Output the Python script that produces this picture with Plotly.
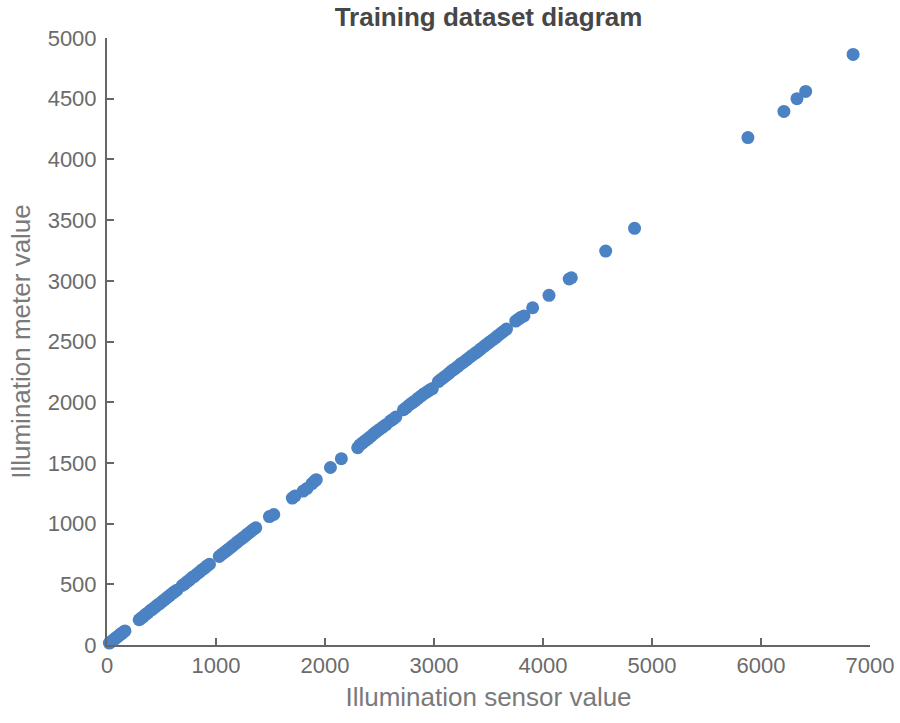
import plotly.graph_objects as go

# Training samples: illumination sensor reading vs. reference meter reading
sensor_values = [
    22, 34, 45, 58, 68, 80, 92, 104, 116, 128, 140, 152, 165,
    295, 312, 330, 352, 375, 398, 415, 438, 460, 482, 505, 528, 550, 572, 595, 615, 640,
    690, 712, 735, 758, 780, 800, 825, 848, 870, 895, 915, 940,
    1030, 1055, 1080, 1100, 1125, 1150, 1172, 1195, 1220, 1245, 1268, 1290, 1315, 1340, 1365,
    1490, 1530,
    1700, 1725, 1800, 1835, 1880, 1905, 1920,
    2050, 2150,
    2300, 2320, 2345, 2370, 2395, 2420, 2445, 2470, 2500, 2530, 2560, 2600, 2625, 2650,
    2720, 2745, 2770, 2800, 2825, 2850, 2880, 2905, 2935, 2960, 2985,
    3040, 3065, 3090, 3115, 3140, 3165, 3190, 3220, 3245, 3270, 3300, 3325, 3350, 3380,
    3405, 3430, 3460, 3485, 3510, 3540, 3565, 3590, 3615, 3640, 3665,
    3750, 3775, 3800, 3825,
    3905, 4055, 4240, 4260, 4575, 4840, 5880, 6210, 6330, 6410, 6845,
]
meter_values = [
    16, 25, 31, 42, 47, 58, 64, 74, 81, 92, 98, 108, 116,
    208, 220, 232, 250, 265, 284, 294, 310, 327, 340, 358, 373, 390, 405, 422, 436, 452,
    490, 503, 522, 536, 555, 566, 585, 600, 618, 633, 650, 665,
    730, 748, 765, 780, 796, 815, 830, 848, 865, 882, 898, 915, 932, 950, 966,
    1058, 1075,
    1210, 1228, 1268, 1290, 1330, 1350, 1362,
    1462, 1535,
    1625, 1648, 1665, 1683, 1700, 1718, 1738, 1756, 1776, 1795, 1815, 1845, 1860, 1878,
    1938, 1955, 1975, 1995, 2010, 2030, 2050, 2068, 2085, 2100, 2112,
    2170, 2188, 2205, 2222, 2240, 2260, 2275, 2295, 2315, 2330, 2350, 2368, 2385, 2405,
    2420, 2440, 2460, 2478, 2495, 2515, 2532, 2550, 2568, 2585, 2602,
    2668, 2685, 2700, 2710,
    2778, 2880, 3015, 3025, 3245, 3432, 4180, 4395, 4500, 4560, 4865,
]

x_ticks = [0, 1000, 2000, 3000, 4000, 5000, 6000, 7000]
y_ticks = [0, 500, 1000, 1500, 2000, 2500, 3000, 3500, 4000, 4500, 5000]

FONT = "Liberation Sans, Arial, sans-serif"
AXIS_GREY = "#666666"
DOT_BLUE = "#4b82c3"

fig = go.Figure(
    go.Scatter(
        x=sensor_values,
        y=meter_values,
        mode="markers",
        marker=dict(size=13, color=DOT_BLUE, line=dict(width=0)),
        cliponaxis=False,
        hoverinfo="x+y",
    )
)

axis_common = dict(
    showgrid=False,
    zeroline=False,
    showline=True,
    linecolor=AXIS_GREY,
    linewidth=2,
    ticks="inside",
    ticklen=7,
    tickwidth=1.5,
    tickcolor=AXIS_GREY,
    tickfont=dict(family=FONT, size=22, color="#6b6b6b"),
    automargin=False,
)

fig.update_layout(
    width=900,
    height=723,
    margin=dict(l=107, r=30, t=38, b=78),
    paper_bgcolor="white",
    plot_bgcolor="white",
    showlegend=False,
    font=dict(family=FONT),
    title=dict(
        text="<b>Training dataset diagram</b>",
        font=dict(family=FONT, size=26, color="#474747"),
        x=0.5,
        xanchor="center",
        y=1 - 17 / 723,
        yanchor="middle",
        xref="paper",
        yref="container",
    ),
    xaxis=dict(
        axis_common,
        range=[0, 7000],
        tickvals=x_ticks,
        ticktext=[str(v) for v in x_ticks],
        title=dict(
            text="Illumination sensor value",
            font=dict(family=FONT, size=26, color="#7a7a7a"),
            standoff=10,
        ),
    ),
    yaxis=dict(
        axis_common,
        range=[0, 5000],
        tickvals=y_ticks,
        ticktext=[str(v) for v in y_ticks],
        ticklabelstandoff=4,
        title=dict(
            text="Illumination meter value",
            font=dict(family=FONT, size=26, color="#7a7a7a"),
            standoff=10,
        ),
    ),
)

fig.write_html("out.html")
